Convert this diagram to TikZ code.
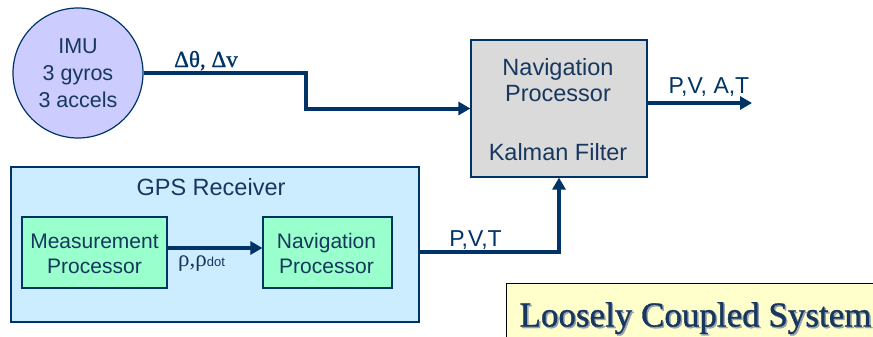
\documentclass[tikz,border=0pt]{standalone}
\usepackage{fontspec}
\setmainfont{Liberation Sans}
\newfontfamily\timesfont{Liberation Serif}
\newfontfamily\heavyserif[FakeBold=1]{Liberation Serif}
\usetikzlibrary{arrows.meta}

\definecolor{lineblue}{RGB}{0,51,102}
\definecolor{textblue}{RGB}{23,55,94}
\definecolor{lavender}{RGB}{204,204,255}
\definecolor{navgray}{RGB}{218,218,218}
\definecolor{rxblue}{RGB}{204,236,255}
\definecolor{mint}{RGB}{153,255,204}
\definecolor{noteyellow}{RGB}{255,255,204}
\definecolor{shadowgray}{RGB}{150,160,175}

\begin{document}
\begin{tikzpicture}[x=1pt,y=-1pt,
  box/.style={draw=lineblue, line width=1.2pt, inner sep=0pt},
  txt/.style={anchor=base, inner sep=0pt, text=textblue, font=\fontsize{21}{25}\selectfont},
  bigtxt/.style={txt, font=\fontsize{23.5}{27}\selectfont},
  lbl/.style={anchor=base, inner sep=0pt, text=lineblue, font=\fontsize{23}{27}\selectfont},
  flow/.style={draw=lineblue, line width=4pt},
  arrowflow/.style={flow, -{Triangle[length=12pt,width=13pt]}}]
\useasboundingbox (0,0) rectangle (873,337);

% IMU
\node[box, circle, fill=lavender, minimum size=130pt, align=center,
      text=textblue, font=\fontsize{21.5}{27}\selectfont] (imu) at (78,73)
      {IMU\\3 gyros\\3 accels};

% central navigation processor
\node[box, fill=navgray, minimum width=176pt, minimum height=137pt] (nav) at (559,108.5) {};
\node[bigtxt] (navl1) at (558,75) {Navigation};
\node[bigtxt] (navl2) at (558,102) {Processor};
\node[bigtxt] (navl3) at (558,160) {Kalman Filter};

% GPS receiver
\node[box, fill=rxblue, minimum width=408pt, minimum height=155pt] (gps) at (215,244.5) {};
\node[bigtxt] (gpstitle) at (211,195) {GPS Receiver};
\node[box, fill=mint, minimum width=145pt, minimum height=71pt] (meas) at (94.5,252.5) {};
\node[txt] (measl1) at (94.5,248) {Measurement};
\node[txt] (measl2) at (94.5,273) {Processor};
\node[box, fill=mint, minimum width=129pt, minimum height=71pt] (gnav) at (327.5,252.5) {};
\node[txt] (gnavl1) at (326.5,248) {Navigation};
\node[txt] (gnavl2) at (326.5,273) {Processor};

% connectors
\coordinate (jog) at (306,0);
\coordinate (pvat) at (752,103);
\coordinate (gpsout) at (419,252);
\coordinate (rho) at (0,248);
\draw[flow, arrowflow] (imu.east) -| (jog |- nav.west) -- (nav.west);
\draw[arrowflow] (nav.east |- pvat) -- (pvat);
\draw[arrowflow] (gps.east |- gpsout) -| (nav.south);
\draw[arrowflow] (meas.east |- rho) -- (gnav.west |- rho);

% signal labels
\node[anchor=base west, inner sep=0pt, text=lineblue, font=\heavyserif\fontsize{23}{26}\selectfont] (dlabel) at (174,67) {Δθ, Δv};
\node[lbl] (pvatlabel) at (709,93) {P,V, A,T};
\node[lbl] (pvtlabel) at (475.5,246) {P,V,T};
\node[anchor=base west, inner sep=0pt, text=textblue] (rholabel) at (178,266)
  {{\timesfont\fontsize{23}{26}\selectfont ρ,ρ}{\fontsize{13}{15}\selectfont dot}};

% title note
\fill[noteyellow] (506,283) rectangle (873,337);
\draw[black, line width=1pt] (873,283) -- (506,283) -- (506,337);
\node[anchor=base, inner sep=0pt, text=shadowgray, font=\heavyserif\fontsize{35}{40}\selectfont] (noteshadow) at (697,328) {Loosely Coupled System};
\node[anchor=base, inner sep=0pt, text=textblue, font=\heavyserif\fontsize{35}{40}\selectfont] (note) at (695.5,326.5) {Loosely Coupled System};
\end{tikzpicture}
\end{document}
